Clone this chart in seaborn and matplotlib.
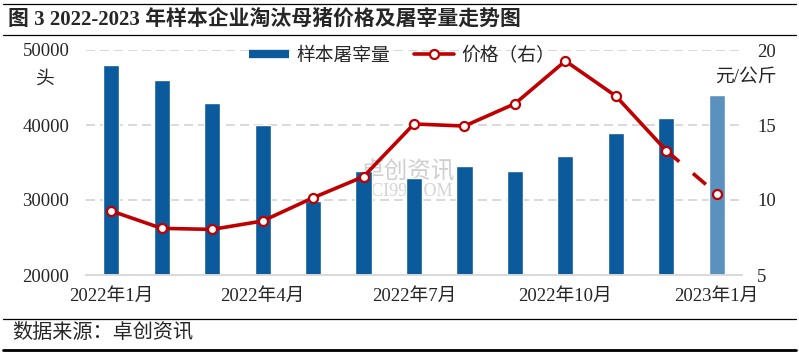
"""样本企业淘汰母猪价格及屠宰量走势图 (2022-2023)."""
import matplotlib
matplotlib.use("Agg")
import matplotlib.pyplot as plt
import numpy as np
import pandas as pd
import seaborn as sns
from matplotlib.lines import Line2D

sns.set_style("white")
plt.rcParams["font.family"] = ["Liberation Serif", "Noto Sans CJK SC", "DejaVu Sans"]
plt.rcParams["axes.unicode_minus"] = False

W, H = 799, 356

# 数据
MONTHS = ["2022年1月", "2022年2月", "2022年3月", "2022年4月", "2022年5月", "2022年6月",
          "2022年7月", "2022年8月", "2022年9月", "2022年10月", "2022年11月", "2022年12月",
          "2023年1月"]
SLAUGHTER = [48000, 46000, 43000, 40000, 29900, 33900, 33000, 34500, 33900, 35900,
             38900, 40900, 44000]
PRICE = [9.27, 8.11, 8.04, 8.6, 10.15, 11.56, 15.07, 14.93, 16.42, 19.27, 16.93, 13.29, 10.42]
TICK_IDX = [0, 3, 6, 9, 12]
LEFT_TICKS = [20000, 30000, 40000, 50000]
RIGHT_TICKS = [5, 10, 15, 20]

BLUE = "#0a5a9c"
BLUE_LIGHT = "#5b91bf"
RED = "#c00000"
GRID = "#d9d9d9"
FS = 13.5

fig = plt.figure(figsize=(W / 100, H / 100), dpi=100)
ax = fig.add_axes([86 / W, 1 - 275 / H, 656 / W, 225 / H])

df = pd.DataFrame({"month": MONTHS, "n": SLAUGHTER, "price": PRICE})
palette = [BLUE] * (len(MONTHS) - 1) + [BLUE_LIGHT]
sns.barplot(data=df, x="month", y="n", hue="month", palette=palette, width=0.32,
            saturation=1, legend=False, ax=ax, zorder=2)

ax.set_xlim(-0.5, len(MONTHS) - 0.5)
ax.set_ylim(LEFT_TICKS[0], LEFT_TICKS[-1])
ax.set_yticks(LEFT_TICKS)
ax.set_axisbelow(True)
ax.yaxis.grid(True, color=GRID, lw=1.4, ls=(0, (4.6, 2.6)))
for s in ("top", "right", "left"):
    ax.spines[s].set_visible(False)
ax.spines["bottom"].set_color(GRID)
ax.spines["bottom"].set_linewidth(1.4)
ax.set_xticks(TICK_IDX, [MONTHS[i] for i in TICK_IDX])
ax.set_xticks([i - 0.5 for i in TICK_IDX], minor=True)
ax.tick_params(axis="x", which="major", length=0, pad=9, labelsize=FS)
ax.tick_params(axis="x", which="minor", length=5, width=1.4, color=GRID)
ax.tick_params(axis="y", length=0, pad=12, labelsize=FS)
ax.set_xlabel("")
ax.set_ylabel("")

# 水印
ax.text(0.49, 0.46, "卓创资讯", transform=ax.transAxes, ha="center", va="center",
        fontsize=17, color="#cfcfcf", family="Noto Sans CJK SC", zorder=1)
ax.text(0.49, 0.37, "SCI99.COM", transform=ax.transAxes, ha="center", va="center",
        fontsize=13, color="#d4d4d4", zorder=1)

# 价格（右轴）
ax2 = ax.twinx()
x = np.arange(len(PRICE))
ax2.plot(x[-2:], PRICE[-2:], color=RED, lw=2.6, ls=(0, (4.7, 5.0)),
         dash_capstyle="butt", zorder=2)
sns.lineplot(x=x[:-1], y=PRICE[:-1], ax=ax2, color=RED, lw=2.6, marker="o", ms=6.5,
             mfc="white", mec=RED, mew=1.6, zorder=3)
ax2.plot(x[-1:], PRICE[-1:], "o", ms=6.5, mfc="white", mec=RED, mew=1.6, zorder=4)
ax2.set_ylim(RIGHT_TICKS[0], RIGHT_TICKS[-1])
ax2.set_yticks(RIGHT_TICKS)
ax2.tick_params(axis="y", length=0, pad=11, labelsize=FS)
for s in ax2.spines.values():
    s.set_visible(False)
ax2.set_ylabel("")
ax2.set_xlim(-0.5, len(MONTHS) - 0.5)

# 单位
fig.text(45 / W, 1 - 79 / H, "头", ha="center", va="center", fontsize=FS)
fig.text(777 / W, 1 - 77 / H, "元/公斤", ha="right", va="center", fontsize=FS)

# 图例
handles = [
    Line2D([], [], color=BLUE, lw=6, solid_capstyle="butt"),
    Line2D([], [], color=RED, lw=2.6, marker="o", ms=6.5, mfc="white", mec=RED, mew=1.6),
]
fig.legend(handles, ["样本屠宰量", "价格（右）"], ncol=2, loc="center",
           bbox_to_anchor=(402 / W, 1 - 56 / H), frameon=False, fontsize=FS,
           handlelength=2.1, handletextpad=0.4, columnspacing=1.3)

# 标题、来源、分隔线
fig.text(8 / W, 1 - 20 / H, "图 3 2022-2023 年样本企业淘汰母猪价格及屠宰量走势图",
         ha="left", va="center", fontsize=15, fontweight="bold")
fig.text(12 / W, 1 - 333 / H, "数据来源：卓创资讯", ha="left", va="center", fontsize=14.5)
for yy, lw in [(4, 0.9), (35, 0.9), (319, 0.9), (350, 2.0)]:
    fig.add_artist(Line2D([3 / W, 796 / W], [1 - yy / H] * 2, transform=fig.transFigure,
                          color="black", lw=lw))

fig.savefig("out.png", dpi=100)
